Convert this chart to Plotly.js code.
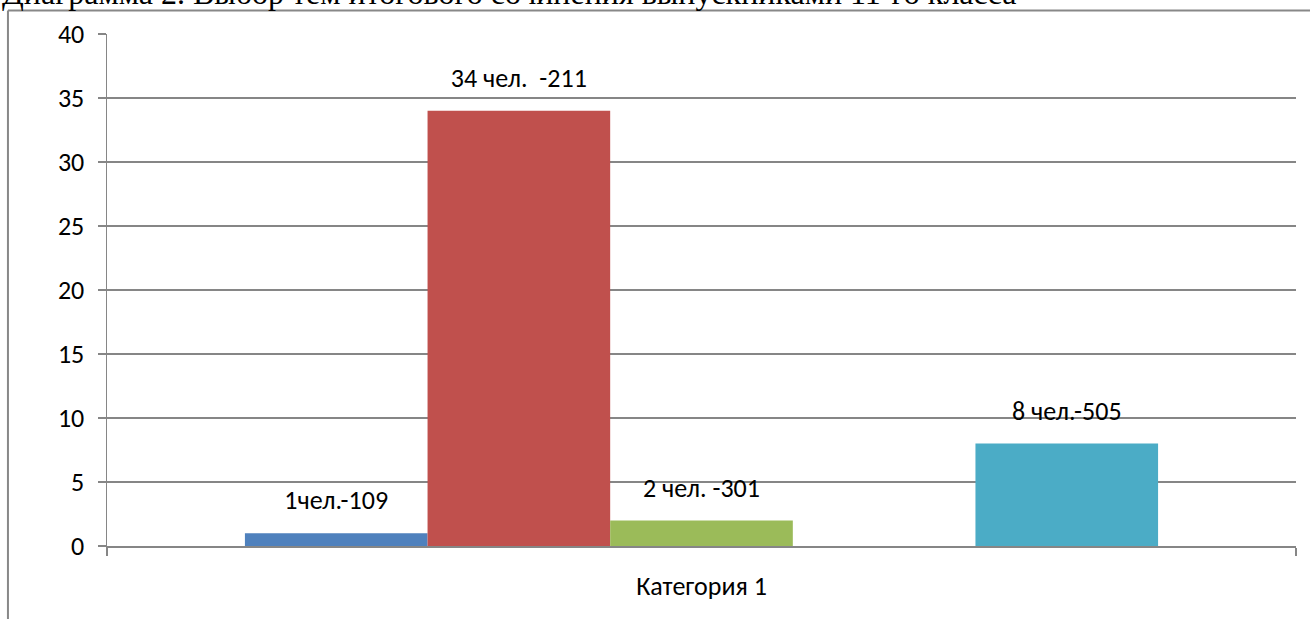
<!DOCTYPE html>
<html>
<head>
<meta charset="utf-8">
<script src="https://cdn.plot.ly/plotly-3.0.1.min.js"></script>
<style>html,body{margin:0;padding:0;background:#fff;}#chart{width:1310px;height:619px;}</style>
</head>
<body>
<div id="chart"></div>
<script>
const chartTitle = "Диаграмма 2. Выбор тем итогового сочинения выпускниками 11-го класса";
const categories = ["Категория 1"];
const seriesNames = ["Ряд 1", "Ряд 2", "Ряд 3", "Ряд 4", "Ряд 5"];
const seriesValues = [1, 34, 2, 0, 8];
const seriesLabels = ["1чел.-109", "34 чел.\u00a0 -211", "2 чел. -301", "", "8 чел.-505"];
const seriesColors = ["#4F81BD", "#C0504D", "#9BBB59", "#8064A2", "#4BACC6"];
const yTicks = [0, 5, 10, 15, 20, 25, 30, 35, 40];

const labelFont = {family: "Carlito, Lato, sans-serif", size: 26, color: "#000"};
const traces = [];
seriesNames.forEach((name, i) => {
  traces.push({
    type: "bar", name: name, x: categories, y: [seriesValues[i]],
    offsetgroup: String(i), marker: {color: seriesColors[i], line: {width: 0}},
    hoverinfo: "none"
  });
});
seriesNames.forEach((name, i) => {
  traces.push({
    type: "scatter", mode: "markers+text", name: name + " label", x: categories, y: [seriesValues[i]],
    offsetgroup: String(i), text: [seriesLabels[i]], textposition: "top center",
    textfont: labelFont, marker: {size: 26, opacity: 0}, cliponaxis: false, hoverinfo: "none"
  });
});

const layout = {
  width: 1310, height: 619,
  margin: {l: 107, r: 14, t: 34, b: 73},
  paper_bgcolor: "#fff", plot_bgcolor: "#fff",
  showlegend: false,
  barmode: "group", scattermode: "group",
  bargap: 0.232, bargroupgap: 0,
  font: labelFont,
  xaxis: {
    type: "category", showline: true, linecolor: "#868686", linewidth: 1.5,
    ticks: "outside", tickson: "boundaries", ticklen: 8, tickcolor: "#868686", tickwidth: 1.5,
    tickfont: labelFont, ticklabelstandoff: 16, showgrid: false, zeroline: false, fixedrange: true
  },
  yaxis: {
    range: [0, 40], tickvals: yTicks, ticktext: yTicks.map(String),
    showline: true, linecolor: "#868686", linewidth: 1.5,
    ticks: "outside", ticklen: 8, tickcolor: "#868686", tickwidth: 1.5,
    showgrid: true, gridcolor: "#868686", gridwidth: 1.5, zeroline: false,
    tickfont: labelFont, ticklabelstandoff: 8, fixedrange: true
  },
  annotations: [{
    text: chartTitle, xref: "paper", yref: "paper", x: -0.09, y: 1, xanchor: "left", yanchor: "middle",
    yshift: 41, showarrow: false, font: {family: "Liberation Serif, Times New Roman, serif", size: 32, color: "#000"}
  }],
  shapes: [
    {type: "line", xref: "paper", yref: "paper", x0: -0.0833, x1: -0.0833, y0: 1.0459, y1: -0.3, line: {color: "#888", width: 2}},
    {type: "line", xref: "paper", yref: "paper", x0: -0.0833, x1: 1.1, y0: 1.0459, y1: 1.0459, line: {color: "#888", width: 2}}
  ]
};
Plotly.newPlot("chart", traces, layout, {displayModeBar: false, staticPlot: true});
</script>
</body>
</html>
